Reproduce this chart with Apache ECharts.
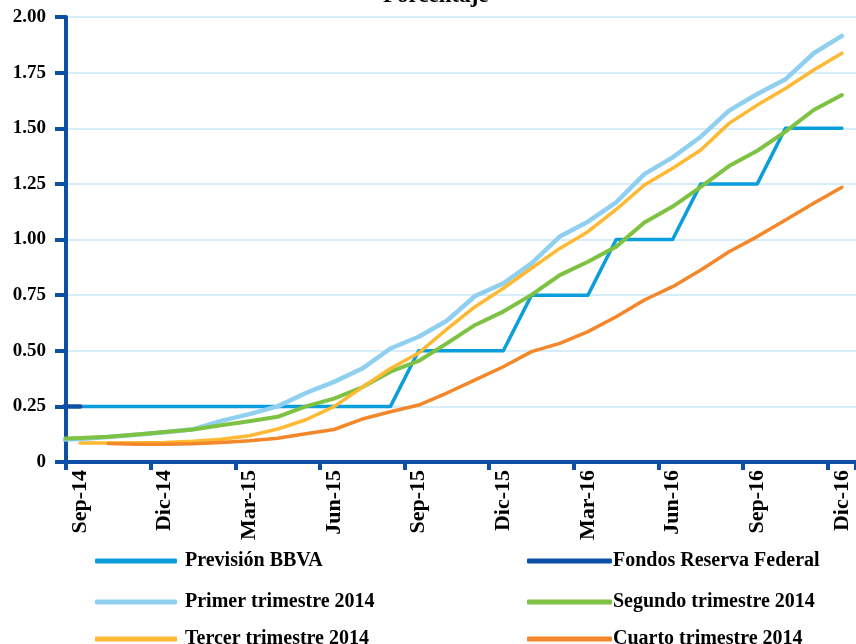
<!DOCTYPE html>
<html>
<head>
<meta charset="utf-8">
<script src="https://cdn.jsdelivr.net/npm/echarts@6/dist/echarts.min.js"></script>
<style>
html,body{margin:0;padding:0;background:#fff;}
#chart{width:856px;height:644px;}
</style>
</head>
<body>
<div id="chart"></div>
<script>
// Months (first entry is Ago-14, only partly visible at the left edge of the plot)
const months = ['Ago-14','Sep-14','Oct-14','Nov-14','Dic-14','Ene-15','Feb-15','Mar-15','Abr-15','May-15','Jun-15','Jul-15','Ago-15','Sep-15','Oct-15','Nov-15','Dic-15','Ene-16','Feb-16','Mar-16','Abr-16','May-16','Jun-16','Jul-16','Ago-16','Sep-16','Oct-16','Nov-16','Dic-16'];
const axisMonths = months.slice(1);

const seriesNames = ['Previsión BBVA','Fondos Reserva Federal','Primer trimestre 2014','Segundo trimestre 2014','Tercer trimestre 2014','Cuarto trimestre 2014'];

const previsionBBVA = [null,0.25,0.25,0.25,0.25,0.25,0.25,0.25,0.25,0.25,0.25,0.25,0.25,0.5,0.5,0.5,0.5,0.75,0.75,0.75,1.0,1.0,1.0,1.25,1.25,1.25,1.5,1.5,1.5];
const fondosFed = [0.25,0.25,null,null,null,null,null,null,null,null,null,null,null,null,null,null,null,null,null,null,null,null,null,null,null,null,null,null,null];
const primerTrim = [0.10,0.103,0.112,0.122,0.134,0.147,0.185,0.215,0.25,0.31,0.36,0.42,0.51,0.563,0.635,0.746,0.803,0.893,1.013,1.08,1.167,1.294,1.369,1.462,1.579,1.654,1.72,1.837,1.915];
const segundoTrim = [0.104,0.108,0.114,0.124,0.135,0.146,0.165,0.183,0.203,0.25,0.285,0.336,0.406,0.454,0.533,0.616,0.676,0.751,0.84,0.9,0.968,1.076,1.148,1.237,1.33,1.399,1.485,1.582,1.649];
const tercerTrim = [null,0.085,0.085,0.086,0.088,0.093,0.102,0.118,0.148,0.19,0.249,0.336,0.42,0.49,0.597,0.698,0.781,0.871,0.96,1.035,1.135,1.245,1.32,1.402,1.522,1.604,1.679,1.762,1.837];
const cuartoTrim = [null,null,0.083,0.08,0.08,0.082,0.088,0.095,0.107,0.127,0.146,0.193,0.226,0.256,0.31,0.369,0.428,0.496,0.533,0.586,0.653,0.728,0.788,0.863,0.945,1.013,1.088,1.163,1.235];

const colors = ['#0A9EDC','#0D4FA6','#8FD0F0','#7DC242','#FDB933','#F3872A'];
const widths = [3.5,4.5,4.5,4,3.5,3.5];
const dataSets = [previsionBBVA,fondosFed,primerTrim,segundoTrim,tercerTrim,cuartoTrim];

const axisColor = '#0D4FA6';
const fontFam = '"Liberation Serif","Times New Roman",serif';

function toPoints(arr){
  return arr.map((v,k)=>[k-1, v]).filter(p=>p[1]!==null);
}

// legend placement: two columns, three rows
const legendCols = [90, 522];
const legendRows = [546, 587, 624];
const legends = seriesNames.map((name,k)=>({
  data:[name],
  left:legendCols[k%2], top:legendRows[Math.floor(k/2)],
  icon:'roundRect', itemWidth:(k%2===0)?82:85, itemHeight:5,
  textStyle:{fontFamily:fontFam,fontWeight:'bold',fontSize:20,color:'#000',
    padding:(k%2===0)?[0,0,0,3]:[0,0,0,-4]}
}));

const chart = echarts.init(document.getElementById('chart'), null, {renderer:'canvas'});
const option = {
  animation:false,
  backgroundColor:'#fff',
  title:{
    text:'Porcentaje', left:378, top:-20,
    textStyle:{fontFamily:fontFam,fontWeight:'bold',fontSize:23,color:'#000'}
  },
  grid:{left:66, top:17, width:797, height:445, containLabel:false},
  legend:legends,
  xAxis:[
    {
      type:'category', data:axisMonths, boundaryGap:true,
      axisLine:{show:true,onZero:false,lineStyle:{color:axisColor,width:4}},
      axisTick:{show:true,interval:2,length:8,lineStyle:{color:axisColor,width:4}},
      axisLabel:{interval:2,rotate:90,margin:8,fontFamily:fontFam,fontWeight:'bold',fontSize:22,color:'#000'},
      splitLine:{show:false}
    },
    {
      type:'value', min:-0.5, max:27.5, show:false
    }
  ],
  yAxis:{
    type:'value', min:0, max:2, interval:0.25,
    axisLine:{show:true,onZero:false,lineStyle:{color:axisColor,width:4}},
    axisTick:{show:true,length:11,lineStyle:{color:axisColor,width:4}},
    axisLabel:{margin:20,fontFamily:fontFam,fontWeight:'bold',fontSize:19,color:'#000',
      formatter:v=> v===0 ? '0' : v.toFixed(2)},
    splitLine:{show:true,lineStyle:{color:'#C8E8F7',width:1.5}}
  },
  series: dataSets.map((arr,k)=>({
    name:seriesNames[k], type:'line', xAxisIndex:1,
    data:toPoints(arr), showSymbol:false, symbol:'none',
    lineStyle:{color:colors[k],width:widths[k],cap:'round',join:'round'},
    itemStyle:{color:colors[k]},
    z:2+k
  }))
};
chart.setOption(option);
</script>
</body>
</html>
